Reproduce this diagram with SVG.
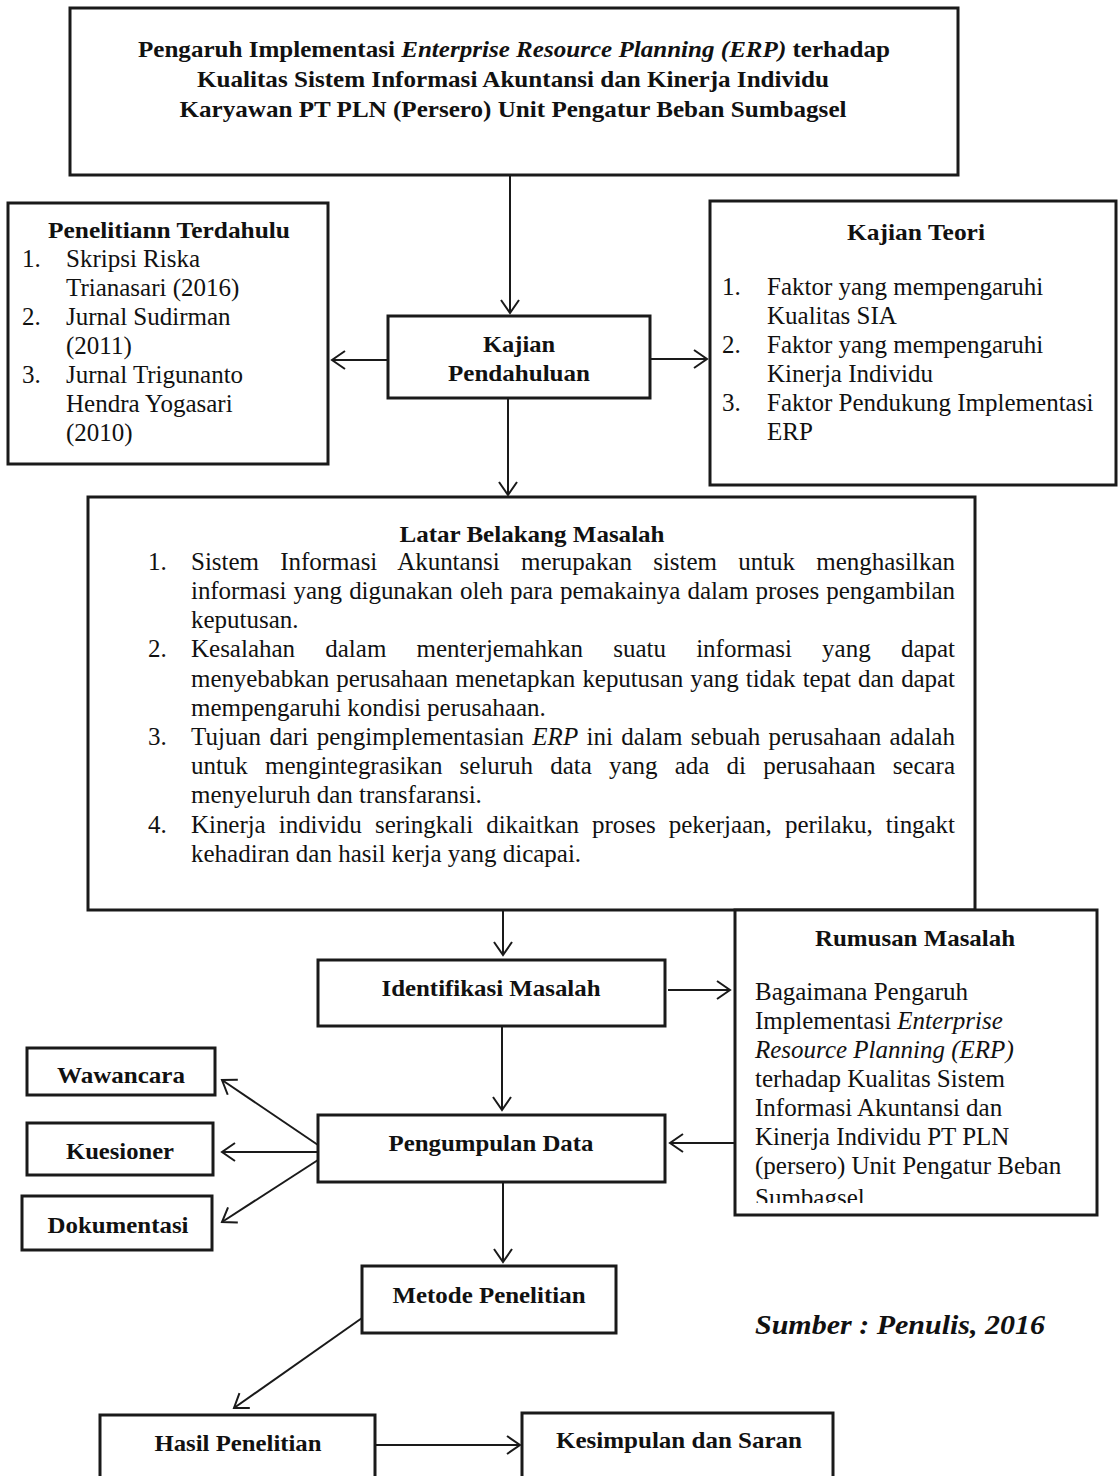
<svg xmlns="http://www.w3.org/2000/svg" width="1119" height="1476" viewBox="0 0 1119 1476">
<style>
.box{fill:#fff;stroke:#1a1a1a;stroke-width:3}
.ln{fill:none;stroke:#1a1a1a;stroke-width:2}
.b{font-family:"Liberation Serif","Times New Roman",serif;font-weight:bold;font-size:23.5px;fill:#111}
.r{font-family:"Liberation Serif","Times New Roman",serif;font-size:25px;fill:#111}
.i{font-style:italic}
.c{text-anchor:middle}
</style>
<defs>
<marker id="ah" markerUnits="userSpaceOnUse" markerWidth="18" markerHeight="22" refX="15" refY="11" orient="auto">
<path d="M2,2 L15,11 L2,20" fill="none" stroke="#1a1a1a" stroke-width="2"/>
</marker>
<clipPath id="rclip"><rect x="735" y="910" width="362" height="293"/></clipPath>
</defs>
<rect width="1119" height="1476" fill="#fff"/>

<g id="connectors">
<path class="ln" d="M510,175 V313" marker-end="url(#ah)"/>
<path class="ln" d="M388,360 H332" marker-end="url(#ah)"/>
<path class="ln" d="M650,359 H707" marker-end="url(#ah)"/>
<path class="ln" d="M508,398 V495" marker-end="url(#ah)"/>
<path class="ln" d="M503,910 V955" marker-end="url(#ah)"/>
<path class="ln" d="M668,990 H730" marker-end="url(#ah)"/>
<path class="ln" d="M502,1026 V1110" marker-end="url(#ah)"/>
<path class="ln" d="M735,1143 H670" marker-end="url(#ah)"/>
<path class="ln" d="M318,1145 L222,1080" marker-end="url(#ah)"/>
<path class="ln" d="M318,1152 H222" marker-end="url(#ah)"/>
<path class="ln" d="M318,1160 L222,1222" marker-end="url(#ah)"/>
<path class="ln" d="M503,1182 V1262" marker-end="url(#ah)"/>
<path class="ln" d="M362,1318 L234,1408" marker-end="url(#ah)"/>
<path class="ln" d="M375,1445 H520" marker-end="url(#ah)"/>
</g>

<g id="judul">
<rect class="box" x="70" y="8" width="888" height="167"/>
<text class="b" x="514" y="57" text-anchor="middle" textLength="752" lengthAdjust="spacingAndGlyphs">Pengaruh Implementasi <tspan class="i">Enterprise Resource Planning (ERP)</tspan> terhadap</text>
<text class="b c" x="513" y="87" textLength="632" lengthAdjust="spacingAndGlyphs">Kualitas Sistem Informasi Akuntansi dan Kinerja Individu</text>
<text class="b c" x="513" y="117" textLength="667" lengthAdjust="spacingAndGlyphs">Karyawan PT PLN (Persero) Unit Pengatur Beban Sumbagsel</text>
</g>

<g id="penelitian-terdahulu">
<rect class="box" x="8" y="203" width="320" height="261"/>
<text class="b c" x="169" y="238" textLength="242" lengthAdjust="spacingAndGlyphs">Penelitiann Terdahulu</text>
<text class="r" x="22" y="267">1.</text><text class="r" x="66" y="267">Skripsi Riska</text>
<text class="r" x="66" y="296">Trianasari (2016)</text>
<text class="r" x="22" y="325">2.</text><text class="r" x="66" y="325">Jurnal Sudirman</text>
<text class="r" x="66" y="354">(2011)</text>
<text class="r" x="22" y="383">3.</text><text class="r" x="66" y="383">Jurnal Trigunanto</text>
<text class="r" x="66" y="412">Hendra Yogasari</text>
<text class="r" x="66" y="441">(2010)</text>
</g>

<g id="kajian-pendahuluan">
<rect class="box" x="388" y="316" width="262" height="82"/>
<text class="b c" x="519" y="352" textLength="72" lengthAdjust="spacingAndGlyphs">Kajian</text>
<text class="b c" x="519" y="381" textLength="142" lengthAdjust="spacingAndGlyphs">Pendahuluan</text>
</g>

<g id="kajian-teori">
<rect class="box" x="710" y="201" width="406" height="284"/>
<text class="b c" x="916" y="240" textLength="138" lengthAdjust="spacingAndGlyphs">Kajian Teori</text>
<text class="r" x="722" y="295">1.</text><text class="r" x="767" y="295">Faktor yang mempengaruhi</text>
<text class="r" x="767" y="324">Kualitas SIA</text>
<text class="r" x="722" y="353">2.</text><text class="r" x="767" y="353">Faktor yang mempengaruhi</text>
<text class="r" x="767" y="382">Kinerja Individu</text>
<text class="r" x="722" y="411">3.</text><text class="r" x="767" y="411">Faktor Pendukung Implementasi</text>
<text class="r" x="767" y="440">ERP</text>
</g>

<g id="latar-belakang">
<rect class="box" x="88" y="497" width="887" height="413"/>
<text class="b c" x="532" y="542" textLength="265" lengthAdjust="spacingAndGlyphs">Latar Belakang Masalah</text>
<text class="r" x="148" y="570">1.</text>
<text class="r" x="191" y="570" word-spacing="15" textLength="764" lengthAdjust="spacing">Sistem Informasi Akuntansi merupakan sistem untuk menghasilkan</text>
<text class="r" x="191" y="599" word-spacing="1" textLength="764" lengthAdjust="spacing">informasi yang digunakan oleh para pemakainya dalam proses pengambilan</text>
<text class="r" x="191" y="628">keputusan.</text>
<text class="r" x="148" y="657">2.</text>
<text class="r" x="191" y="657" word-spacing="24" textLength="764" lengthAdjust="spacing">Kesalahan dalam menterjemahkan suatu informasi yang dapat</text>
<text class="r" x="191" y="687" word-spacing="1" textLength="764" lengthAdjust="spacing">menyebabkan perusahaan menetapkan keputusan yang tidak tepat dan dapat</text>
<text class="r" x="191" y="716">mempengaruhi kondisi perusahaan.</text>
<text class="r" x="148" y="745">3.</text>
<text class="r" x="191" y="745" word-spacing="2" textLength="764" lengthAdjust="spacing">Tujuan dari pengimplementasian <tspan class="i">ERP</tspan> ini dalam sebuah perusahaan adalah</text>
<text class="r" x="191" y="774" word-spacing="11" textLength="764" lengthAdjust="spacing">untuk mengintegrasikan seluruh data yang ada di perusahaan secara</text>
<text class="r" x="191" y="803">menyeluruh dan transfaransi.</text>
<text class="r" x="148" y="833">4.</text>
<text class="r" x="191" y="833" word-spacing="7" textLength="764" lengthAdjust="spacing">Kinerja individu seringkali dikaitkan proses pekerjaan, perilaku, tingakt</text>
<text class="r" x="191" y="862">kehadiran dan hasil kerja yang dicapai.</text>
</g>

<g id="rumusan-masalah">
<rect class="box" x="735" y="910" width="362" height="305"/>
<text class="b c" x="915" y="946" textLength="200" lengthAdjust="spacingAndGlyphs">Rumusan Masalah</text>
<g clip-path="url(#rclip)">
<text class="r" x="755" y="1000">Bagaimana Pengaruh</text>
<text class="r" x="755" y="1029">Implementasi <tspan class="i">Enterprise</tspan></text>
<text class="r i" x="755" y="1058">Resource Planning (ERP)</text>
<text class="r" x="755" y="1087">terhadap Kualitas Sistem</text>
<text class="r" x="755" y="1116">Informasi Akuntansi dan</text>
<text class="r" x="755" y="1145">Kinerja Individu PT PLN</text>
<text class="r" x="755" y="1174">(persero) Unit Pengatur Beban</text>
<text class="r" x="755" y="1206">Sumbagsel</text>
</g>
</g>

<g id="identifikasi-masalah">
<rect class="box" x="318" y="960" width="347" height="66"/>
<text class="b c" x="491" y="996" textLength="219" lengthAdjust="spacingAndGlyphs">Identifikasi Masalah</text>
</g>

<g id="pengumpulan-data">
<rect class="box" x="318" y="1115" width="347" height="67"/>
<text class="b c" x="491" y="1151" textLength="205" lengthAdjust="spacingAndGlyphs">Pengumpulan Data</text>
</g>

<g id="wawancara">
<rect class="box" x="27" y="1048" width="188" height="47"/>
<text class="b c" x="121" y="1083" textLength="128" lengthAdjust="spacingAndGlyphs">Wawancara</text>
</g>

<g id="kuesioner">
<rect class="box" x="27" y="1123" width="186" height="52"/>
<text class="b c" x="120" y="1159" textLength="108" lengthAdjust="spacingAndGlyphs">Kuesioner</text>
</g>

<g id="dokumentasi">
<rect class="box" x="22" y="1196" width="190" height="54"/>
<text class="b c" x="118" y="1233" textLength="141" lengthAdjust="spacingAndGlyphs">Dokumentasi</text>
</g>

<g id="metode-penelitian">
<rect class="box" x="362" y="1266" width="254" height="67"/>
<text class="b c" x="489" y="1303" textLength="193" lengthAdjust="spacingAndGlyphs">Metode Penelitian</text>
</g>

<g id="hasil-penelitian">
<rect class="box" x="100" y="1415" width="275" height="75"/>
<text class="b c" x="238" y="1451" textLength="167" lengthAdjust="spacingAndGlyphs">Hasil Penelitian</text>
</g>

<g id="kesimpulan-saran">
<rect class="box" x="522" y="1413" width="311" height="75"/>
<text class="b c" x="679" y="1448" textLength="246" lengthAdjust="spacingAndGlyphs">Kesimpulan dan Saran</text>
</g>

<text class="b i" x="755" y="1334" style="font-size:28px" textLength="290" lengthAdjust="spacingAndGlyphs">Sumber : Penulis, 2016</text>
</svg>
